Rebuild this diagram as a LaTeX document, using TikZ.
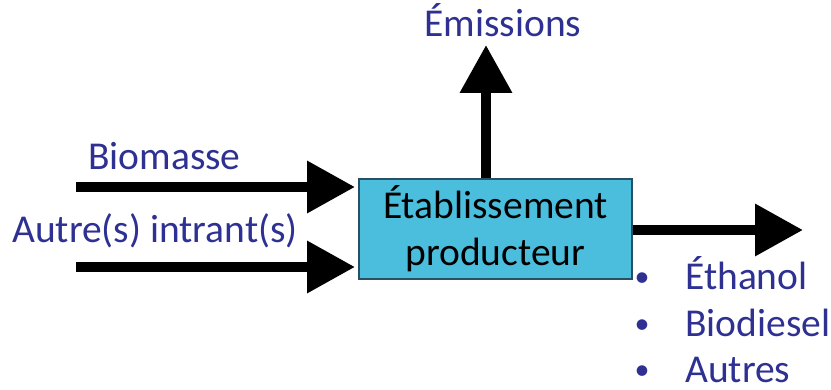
\documentclass[tikz,border=0pt]{standalone}
\usepackage{fontspec}
\setmainfont{Carlito}
\usetikzlibrary{arrows.meta}
\definecolor{txtblue}{RGB}{46,49,146}
\definecolor{boxfill}{RGB}{75,190,222}
\definecolor{boxline}{RGB}{40,80,100}
\tikzset{
  flow/.style={line width=10pt, -{Triangle[length=48pt,width=50pt]}},
  lbl/.style={text=txtblue, font=\fontsize{39.5}{47}\selectfont, inner sep=0pt},
  bul/.style={text=txtblue, font=\fontsize{30}{36}\selectfont, inner sep=0pt},
  procbox/.style={draw=boxline, line width=1.5pt, fill=boxfill, minimum width=273pt, minimum height=100pt, inner sep=0pt, align=center, font=\fontsize{39.5}{47}\selectfont}
}
\begin{document}
\begin{tikzpicture}[x=1pt,y=-1pt]
\useasboundingbox (0,0) rectangle (831,390);
\node[procbox] (box) at (495.5,229) {Établissement\\producteur};
\node[lbl, anchor=base] (emi) at (503,37) {Émissions};
\node[lbl, anchor=base west] (bio) at (88,170) {Biomasse};
\node[lbl, anchor=base west] (aut) at (12,243) {Autre(s) intrant(s)};
\node[bul, anchor=base] (b1) at (642,287) {•};
\node[bul, anchor=base] (b2) at (642,334) {•};
\node[bul, anchor=base] (b3) at (642,380) {•};
\node[lbl, anchor=base west] (eth) at (685,290) {Éthanol};
\node[lbl, anchor=base west] (bdl) at (685,337) {Biodiesel};
\node[lbl, anchor=base west] (aus) at (685,383) {Autres};
\coordinate (emitip) at (486,45);
\coordinate (outtip) at (803,230);
\coordinate (in1) at (76,187);
\coordinate (in1t) at (355,187);
\coordinate (in2) at (76,267);
\coordinate (in2t) at (355,267);
\draw[flow] (box.north -| emitip) -- (emitip);
\draw[flow] (box.east |- outtip) -- (outtip);
\draw[flow] (in1) -- (in1t);
\draw[flow] (in2) -- (in2t);
\end{tikzpicture}
\end{document}
